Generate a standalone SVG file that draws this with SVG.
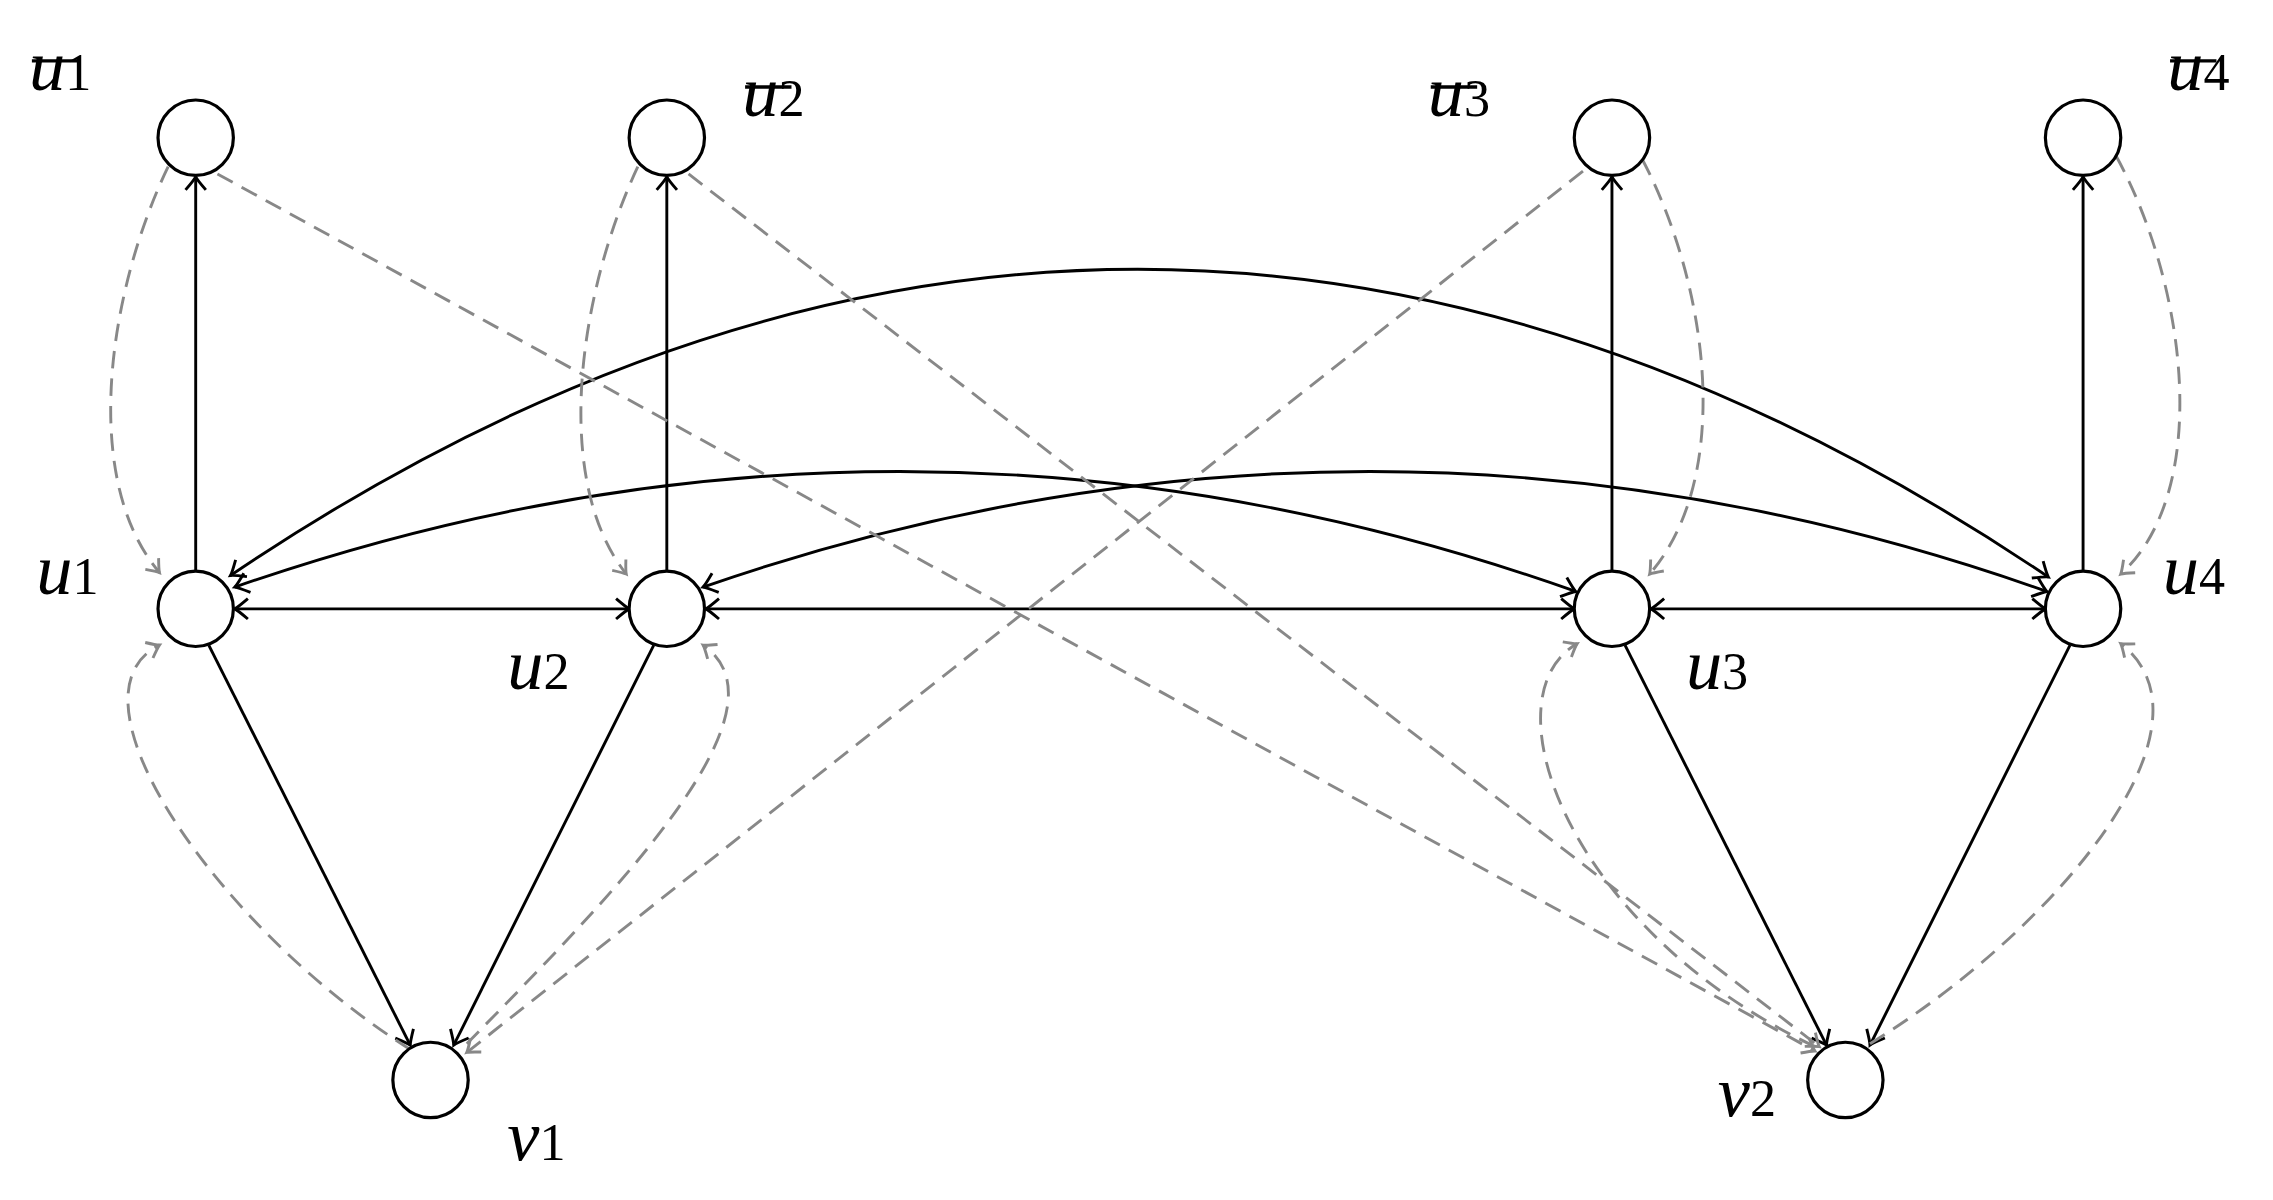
<svg xmlns="http://www.w3.org/2000/svg" width="2273" height="1200" viewBox="0 0 2273 1200">
<style>
.n{fill:#fff;stroke:#000;stroke-width:2.2}
.s{fill:none;stroke:#000;stroke-width:2}
.d{fill:none;stroke:#888;stroke-width:2;stroke-dasharray:12 7}
.t{font-family:"Liberation Serif",serif;font-style:italic;font-size:50px;fill:#000}
.sub{font-style:normal;font-size:36px}
.bar{stroke:#000;stroke-width:2.4}
</style>
<defs>
<marker id="a" markerUnits="userSpaceOnUse" markerWidth="20" markerHeight="20" refX="0" refY="0" viewBox="-12 -10 14 20" orient="auto-start-reverse">
<path d="M-9,-7 Q-2,-1 0,0 Q-2,1 -9,7" fill="none" stroke="#000" stroke-width="2"/>
</marker>
<marker id="g" markerUnits="userSpaceOnUse" markerWidth="20" markerHeight="20" refX="0" refY="0" viewBox="-12 -10 14 20" orient="auto">
<path d="M-8,-6 Q-2,-1 0,0 Q-2,1 -8,6" fill="none" stroke="#888" stroke-width="2"/>
</marker>
</defs>
<rect width="2273" height="1200" fill="#fff"/>
<g transform="scale(1.4496)">
<g id="connectors">
<path class="s" d="M135,394V122" marker-end="url(#a)"/>
<path class="s" d="M460,394V122" marker-end="url(#a)"/>
<path class="s" d="M1112,394V122" marker-end="url(#a)"/>
<path class="s" d="M1437,394V122" marker-end="url(#a)"/>
<path class="s" d="M144,445L283,721" marker-end="url(#a)"/>
<path class="s" d="M451,445L313,721" marker-end="url(#a)"/>
<path class="s" d="M1121,445L1260,721" marker-end="url(#a)"/>
<path class="s" d="M1428,445L1290,721" marker-end="url(#a)"/>
<path class="s" d="M162,420H434" marker-start="url(#a)" marker-end="url(#a)"/>
<path class="s" d="M487,420H1086" marker-start="url(#a)" marker-end="url(#a)"/>
<path class="s" d="M1139,420H1411" marker-start="url(#a)" marker-end="url(#a)"/>
<path class="s" d="M159,397Q785,-26 1413,398" marker-start="url(#a)" marker-end="url(#a)"/>
<path class="s" d="M162,405Q625,244 1087,408" marker-start="url(#a)" marker-end="url(#a)"/>
<path class="s" d="M485,405Q950,244 1412,408" marker-start="url(#a)" marker-end="url(#a)"/>
<path class="d" d="M150,120L1252,725" marker-end="url(#g)"/>
<path class="d" d="M475,120L1255,722" marker-end="url(#g)"/>
<path class="d" d="M1092,118L322,726" marker-end="url(#g)"/>
<path class="d" d="M116,115C75,200 55,330 110,395" marker-end="url(#g)"/>
<path class="d" d="M283,724C150,640 40,480 110,445" marker-end="url(#g)"/>
<path class="d" d="M440,115C400,200 380,330 432,396" marker-end="url(#g)"/>
<path class="d" d="M322,720C420,620 550,490 485,445" marker-end="url(#g)"/>
<path class="d" d="M1133,110C1180,200 1195,330 1138,396" marker-end="url(#g)"/>
<path class="d" d="M1252,722C1080,640 1025,480 1088,444" marker-end="url(#g)"/>
<path class="d" d="M1460,108C1510,200 1525,340 1463,396" marker-end="url(#g)"/>
<path class="d" d="M1290,720C1420,640 1535,500 1463,444" marker-end="url(#g)"/>
</g>
<g id="ubar1"><circle class="n" cx="135" cy="95" r="26"/><line class="bar" x1="22" y1="42" x2="54" y2="42"/><text class="t" x="20" y="62">u<tspan class="sub">1</tspan></text></g>
<g id="ubar2"><circle class="n" cx="460" cy="95" r="26"/><line class="bar" x1="514" y1="60" x2="546" y2="60"/><text class="t" x="512" y="80">u<tspan class="sub">2</tspan></text></g>
<g id="ubar3"><circle class="n" cx="1112" cy="95" r="26"/><line class="bar" x1="987" y1="60" x2="1019" y2="60"/><text class="t" x="985" y="80">u<tspan class="sub">3</tspan></text></g>
<g id="ubar4"><circle class="n" cx="1437" cy="95" r="26"/><line class="bar" x1="1497" y1="42" x2="1529" y2="42"/><text class="t" x="1495" y="62">u<tspan class="sub">4</tspan></text></g>
<g id="u1"><circle class="n" cx="135" cy="420" r="26"/><text class="t" x="25" y="410">u<tspan class="sub">1</tspan></text></g>
<g id="u2"><circle class="n" cx="460" cy="420" r="26"/><text class="t" x="350" y="475">u<tspan class="sub">2</tspan></text></g>
<g id="u3"><circle class="n" cx="1112" cy="420" r="26"/><text class="t" x="1163" y="475">u<tspan class="sub">3</tspan></text></g>
<g id="u4"><circle class="n" cx="1437" cy="420" r="26"/><text class="t" x="1492" y="410">u<tspan class="sub">4</tspan></text></g>
<g id="v1"><circle class="n" cx="297" cy="745" r="26"/><text class="t" x="350" y="800">v<tspan class="sub">1</tspan></text></g>
<g id="v2"><circle class="n" cx="1273" cy="745" r="26"/><text class="t" x="1185" y="770">v<tspan class="sub">2</tspan></text></g>
</g>
</svg>
